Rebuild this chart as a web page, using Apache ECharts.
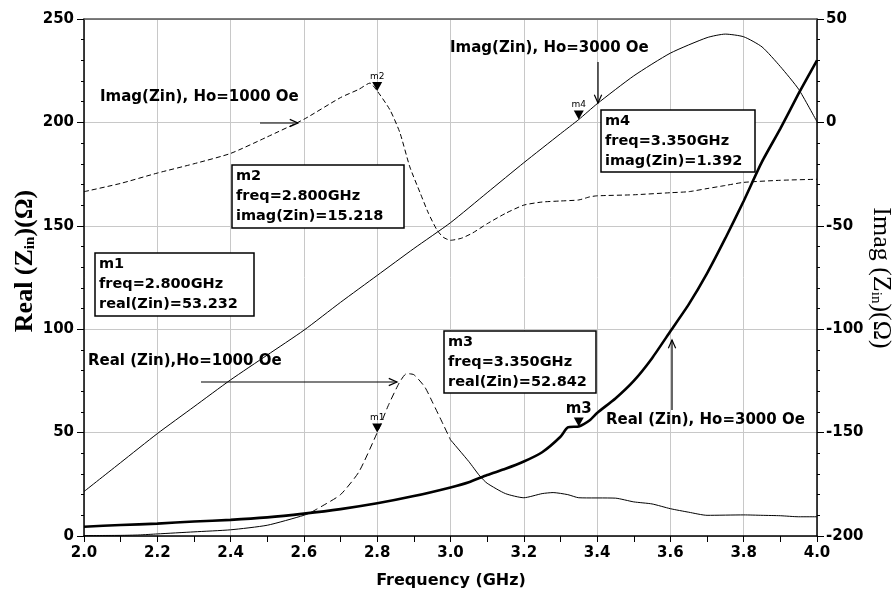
<!DOCTYPE html>
<html><head><meta charset="utf-8">
<script src="https://cdn.jsdelivr.net/npm/echarts/dist/echarts.min.js"></script>
<style>html,body{margin:0;padding:0;background:#fff;}#c{width:894px;height:598px;}</style>
</head><body><div id="c"></div>
<script>
// ---- data ----
const real1000Freq = [2.00,2.10,2.15,2.20,2.30,2.40,2.50,2.60,2.62,2.65,2.70,2.75,2.80,2.83,2.86,2.88,2.90,2.93,2.95,2.98,3.00,3.05,3.08,3.10,3.15,3.20,3.25,3.28,3.32,3.35,3.45,3.50,3.55,3.60,3.65,3.70,3.80,3.85,3.90,3.95,4.00];
const real1000Vals = [0.2,0.3,0.5,1.0,2.0,3.0,5.2,10,11.5,14.5,20,31,50,63,74,78.5,78,72,65,54,46.5,36,29,25.5,20.5,18.5,20.5,21,20,18.5,18.3,16.5,15.5,13.2,11.5,10,10.2,10,9.8,9.3,9.3];

const real3000Freq = [2.00,2.10,2.20,2.30,2.40,2.50,2.60,2.70,2.80,2.90,3.00,3.05,3.10,3.15,3.20,3.25,3.30,3.32,3.35,3.38,3.40,3.45,3.50,3.55,3.60,3.65,3.70,3.75,3.80,3.85,3.90,3.95,4.00];
const real3000Vals = [4.5,5.3,6.0,7.0,7.8,9.0,10.8,13.0,15.8,19.3,23.5,26,29.5,32.5,36,40.5,48,52.5,53,56,59.5,66.5,75,86,99,112,127,144,162,181,197,214,230];

const imag1000Freq = [2.00,2.10,2.20,2.30,2.40,2.50,2.60,2.70,2.75,2.78,2.80,2.835,2.862,2.889,2.917,2.94,2.963,2.98,3.00,3.03,3.06,3.10,3.15,3.20,3.25,3.30,3.35,3.38,3.40,3.50,3.60,3.65,3.70,3.75,3.80,3.90,4.00];
const imag1000Vals = [-33.5,-29.5,-24.5,-20,-15,-7,1.5,12,16,19,15.2,6,-5,-21.5,-34,-44,-52,-55.5,-57,-56,-53.5,-49,-44,-40,-38.5,-38,-37.5,-36,-35.5,-35,-34,-33.5,-32,-30.5,-29,-28,-27.5];

const imag3000Freq = [2.00,2.10,2.20,2.30,2.40,2.50,2.60,2.70,2.80,2.90,3.00,3.10,3.20,3.30,3.35,3.40,3.50,3.60,3.70,3.75,3.80,3.85,3.90,3.95,4.00];
const imag3000Vals = [-178.5,-164.5,-150.5,-137.5,-124.5,-112.5,-100.5,-87,-74,-61,-48.5,-34,-19.5,-5.5,1.4,9,22.5,33.5,41,42.7,41.4,36.5,27,16,0.3];

const markerFreqs = [2.8, 2.8, 3.35, 3.35];   // m1, m2, m3, m4
const markerNames = ['m1','m2','m3','m4'];

// ---- helpers ----
function pairs(f, v){ return f.map((x,i)=>[x, v[i]]); }
function valAt(f, v, x){ return v[f.indexOf(x)]; }
const FONT = 'DejaVu Sans';

const r1 = pairs(real1000Freq, real1000Vals);
const r1SolidA = r1.filter(p=>p[0]<=2.62);
const r1Dash = r1.filter(p=>p[0]>=2.62 && p[0]<=3.0);
const r1SolidB = r1.filter(p=>p[0]>=3.0);

function marker(name, x, y, big){
  return {
    symbol:'path://M0,0L10,0L5,9Z', symbolSize:[10,9], symbolOffset:[0,-4.5],
    itemStyle:{color:'#000'}, silent:true, animation:false,
    label:{show:true, position:'top', distance:1, formatter:name, color:'#000',
      fontSize: big?15:9, fontWeight: big?'bold':'normal', fontFamily: FONT},
    data:[{coord:[x,y]}]
  };
}
function arrow(x1,y1,x2,y2){
  const a=Math.atan2(y2-y1,x2-x1), L=9, W=0.42;
  return [
    {type:'line', z:100, shape:{x1,y1,x2,y2}, style:{stroke:'#000', lineWidth:1.2}},
    {type:'polyline', z:100, shape:{points:[[x2-L*Math.cos(a-W), y2-L*Math.sin(a-W)],[x2,y2],[x2-L*Math.cos(a+W), y2-L*Math.sin(a+W)]]},
     style:{stroke:'#000', fill:null, lineWidth:1.2}}
  ];
}
function box(x,y,w,h,lines){
  return [
    {type:'rect', z:100, shape:{x,y,width:w,height:h}, style:{fill:'#fff', stroke:'#000', lineWidth:1.5}},
    {type:'text', z:101, x:x+4, y:y+1, style:{text:lines.join('\n'), fontFamily:FONT, fontWeight:'bold', fontSize:14.5, lineHeight:20, fill:'#000', verticalAlign:'top', align:'left'}}
  ];
}
function note(x,y,t){
  return {type:'text', z:100, x, y, style:{text:t, fontFamily:FONT, fontWeight:'bold', fontSize:15, fill:'#000', align:'left', verticalAlign:'middle'}};
}

const chart = echarts.init(document.getElementById('c'), null, {renderer:'canvas'});
const axisLbl = {color:'#000', fontFamily:FONT, fontWeight:'bold', fontSize:15};

const elements = [].concat(
  box(95,253,159,63,['m1','freq=2.800GHz','real(Zin)=53.232']),
  box(232,165,172,63,['m2','freq=2.800GHz','imag(Zin)=15.218']),
  box(444,331,152,62,['m3','freq=3.350GHz','real(Zin)=52.842']),
  box(601,110,154,62,['m4','freq=3.350GHz','imag(Zin)=1.392']),
  [note(100,97,'Imag(Zin), Ho=1000 Oe'), note(450,48,'Imag(Zin), Ho=3000 Oe'),
   note(88,361,'Real (Zin),Ho=1000 Oe'), note(606,420,'Real (Zin), Ho=3000 Oe')],
  arrow(260,123,298,123), arrow(598,62,598,103), arrow(201,382,397,382), arrow(672,410,672,340),
  [
    {type:'text', x:25, y:261, rotation:Math.PI/2, style:{
      text:'{a|Real (Z}{s|in}{a|)(Ω)}', align:'center', verticalAlign:'middle', fill:'#000',
      rich:{a:{fontFamily:'Liberation Serif', fontWeight:'bold', fontSize:26, lineHeight:26, padding:[0,0,4,0], verticalAlign:'top', fill:'#000'},
            s:{fontFamily:'Liberation Serif', fontWeight:'bold', fontSize:15, lineHeight:15, verticalAlign:'bottom', fill:'#000'}}}},
    {type:'text', x:881, y:278, rotation:-Math.PI/2, style:{
      text:'{a|Imag (Z}{s|in}{a|)(Ω)}', align:'center', verticalAlign:'middle', fill:'#000',
      rich:{a:{fontFamily:'Liberation Serif', fontSize:26, lineHeight:26, padding:[0,0,4,0], verticalAlign:'top', fill:'#000'},
            s:{fontFamily:'Liberation Serif', fontSize:15, lineHeight:15, verticalAlign:'bottom', fill:'#000'}}}},
    {type:'text', x:451, y:581, style:{text:'Frequency (GHz)', fontFamily:FONT, fontWeight:'bold', fontSize:16, fill:'#000', align:'center', verticalAlign:'middle'}}
  ]
);

const SM = 0.2;
chart.setOption({
  animation:false,
  backgroundColor:'#fff',
  grid:{left:84, right:77, top:19, bottom:62, outerBoundsMode:'none'},
  xAxis:[{
    type:'value', min:2, max:4, interval:0.2,
    axisLine:{show:true, onZero:false, lineStyle:{color:'#000', width:1.5}},
    axisTick:{show:true, inside:false, length:6, lineStyle:{color:'#000'}},
    minorTick:{show:true, splitNumber:2, length:6, lineStyle:{color:'#000'}},
    splitLine:{show:true, lineStyle:{color:'#c8c8c8', width:1}},
    axisLabel:Object.assign({margin:10, formatter:v=>v.toFixed(1)}, axisLbl)
  },{
    type:'value', position:'top', min:2, max:4,
    axisLine:{show:true, onZero:false, lineStyle:{color:'#555', width:1.5}},
    axisTick:{show:false}, axisLabel:{show:false}, splitLine:{show:false}
  }],
  yAxis:[{
    type:'value', min:0, max:250, interval:50, position:'left',
    axisLine:{show:true, onZero:false, lineStyle:{color:'#000', width:1.5}},
    axisTick:{show:true, length:7, lineStyle:{color:'#000'}},
    minorTick:{show:true, splitNumber:5, length:3, lineStyle:{color:'#000'}},
    splitLine:{show:true, lineStyle:{color:'#c8c8c8', width:1}},
    axisLabel:Object.assign({margin:10}, axisLbl)
  },{
    type:'value', min:-200, max:50, interval:50, position:'right',
    axisLine:{show:true, onZero:false, lineStyle:{color:'#000', width:1.5}},
    axisTick:{show:true, length:7, lineStyle:{color:'#000'}},
    minorTick:{show:true, splitNumber:5, length:3, lineStyle:{color:'#000'}},
    splitLine:{show:false},
    axisLabel:Object.assign({margin:9}, axisLbl)
  }],
  series:[
    {type:'line', name:'Real1000a', data:r1SolidA, smooth:SM, showSymbol:false, symbol:'none', lineStyle:{color:'#000', width:1}, z:3},
    {type:'line', name:'Real1000dash', data:r1Dash, smooth:SM, showSymbol:false, symbol:'none', lineStyle:{color:'#000', width:1, type:[7,4]}, z:3,
      markPoint:marker(markerNames[0], markerFreqs[0], valAt(real1000Freq, real1000Vals, markerFreqs[0]), false)},
    {type:'line', name:'Real1000b', data:r1SolidB, smooth:SM, showSymbol:false, symbol:'none', lineStyle:{color:'#000', width:1}, z:3},
    {type:'line', name:'Real3000', data:pairs(real3000Freq, real3000Vals), smooth:SM, showSymbol:false, symbol:'none', lineStyle:{color:'#000', width:2.6}, z:4,
      markPoint:marker(markerNames[2], markerFreqs[2], valAt(real3000Freq, real3000Vals, markerFreqs[2]), true)},
    {type:'line', name:'Imag1000', yAxisIndex:1, data:pairs(imag1000Freq, imag1000Vals), smooth:SM, showSymbol:false, symbol:'none', lineStyle:{color:'#000', width:1, type:[5,3]}, z:3,
      markPoint:marker(markerNames[1], markerFreqs[1], valAt(imag1000Freq, imag1000Vals, markerFreqs[1]), false)},
    {type:'line', name:'Imag3000', yAxisIndex:1, data:pairs(imag3000Freq, imag3000Vals), smooth:SM, showSymbol:false, symbol:'none', lineStyle:{color:'#000', width:1}, z:3,
      markPoint:marker(markerNames[3], markerFreqs[3], valAt(imag3000Freq, imag3000Vals, markerFreqs[3]), false)}
  ],
  graphic:{elements}
});
</script></body></html>
